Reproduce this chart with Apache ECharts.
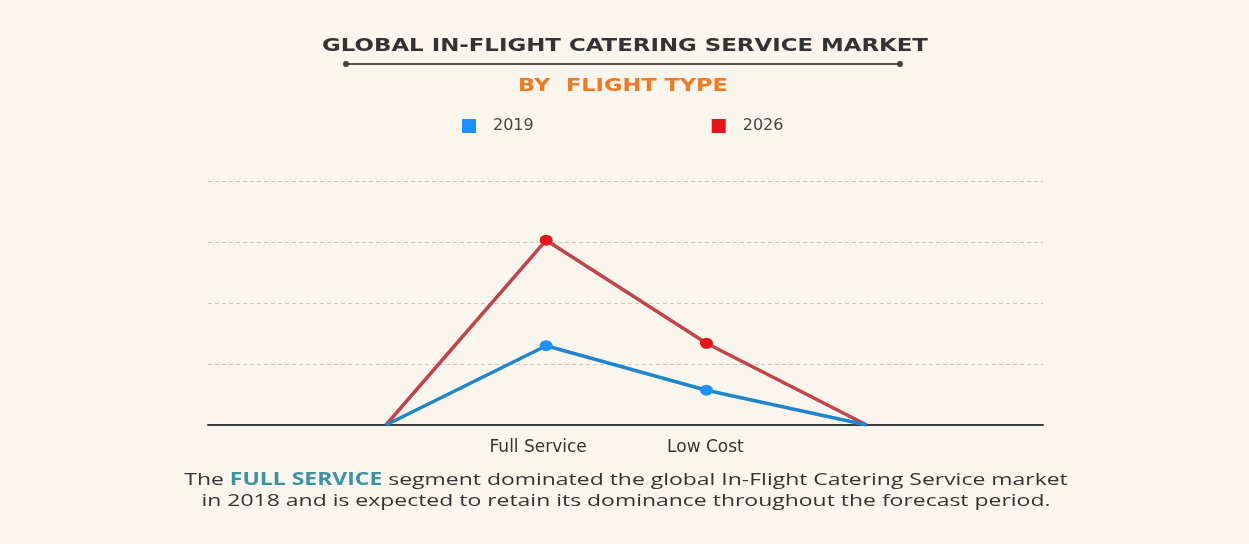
<!DOCTYPE html>
<html><head><meta charset="utf-8">
<script src="https://cdn.jsdelivr.net/npm/echarts@6/dist/echarts.min.js"></script>
<style>html,body{margin:0;padding:0;background:#faf6ee}#c{width:1249px;height:544px}</style>
</head><body><div id="c"></div>
<script>
const categories = ['', 'Full Service', 'Low Cost', ''];
const values2019 = [0, 1.3, 0.57, 0];
const values2026 = [0, 3.03, 1.34, 0];
const legendLabels = ['2019', '2026'];
const titleText = 'GLOBAL IN-FLIGHT CATERING SERVICE MARKET';
const subtitleText = 'BY  FLIGHT TYPE';
const noteText = '{n|The }{b|FULL SERVICE}{n| segment dominated the global In-Flight Catering Service market}\n{n|in 2018 and is expected to retain its dominance throughout the forecast period.}';

const chart = echarts.init(document.getElementById('c'), null, {renderer: 'canvas'});
const toPairs = arr => arr.map((v, i) => [i, v]);
const symSize = v => (v[1] === 0 ? 0 : [13, 11]);
chart.setOption({
  backgroundColor: '#faf6ee',
  animation: false,
  legend: {
    top: 118, left: 462, padding: 0, itemGap: 178, itemWidth: 14, itemHeight: 14, icon: 'rect',
    textStyle: {fontFamily: 'DejaVu Sans', fontSize: 16, color: '#444', padding: [0, 0, 0, 12]},
    data: legendLabels
  },
  grid: {left: 208, right: 206, top: 181, bottom: 119},
  xAxis: {
    type: 'value', min: -1.11, max: 4.1,
    axisLine: {show: true, onZero: false, lineStyle: {color: '#3d3d3d', width: 2}},
    axisTick: {show: false},
    splitLine: {show: false},
    axisLabel: {customValues: [1, 2],
      formatter: v => { const i = Math.round(v); return i === 1 ? '{a|' + categories[i] + '}' : '{c|' + categories[i] + '}'; },
      fontFamily: 'DejaVu Sans', fontSize: 17, color: '#333', margin: 14,
      rich: {
        a: {fontFamily: 'DejaVu Sans', fontSize: 17, color: '#333', padding: [0, 16, 0, 0]},
        c: {fontFamily: 'DejaVu Sans', fontSize: 17, color: '#333', padding: [0, 2, 0, 0]}
      }}
  },
  yAxis: {
    type: 'value', min: 0, max: 4, interval: 1,
    axisLine: {show: false}, axisTick: {show: false}, axisLabel: {show: false},
    splitLine: {lineStyle: {color: '#c9c9c4', type: [4, 3], width: 1}}
  },
  series: [
    {name: legendLabels[0], type: 'line', data: toPairs(values2019),
     color: '#1e90ee', symbol: 'circle', symbolSize: symSize,
     lineStyle: {color: '#1f86cc', width: 3.5},
     itemStyle: {color: '#1e90ff'},
     showAllSymbol: true, z: 3},
    {name: legendLabels[1], type: 'line', data: toPairs(values2026),
     color: '#e8141c', symbol: 'circle', symbolSize: symSize,
     lineStyle: {color: '#c4434b', width: 3.5},
     itemStyle: {color: '#e8141c'}, z: 2}
  ],
  graphic: [
    {type: 'text', x: 625, y: 46, scaleX: 1.27,
     style: {text: titleText, font: 'bold 18px "DejaVu Sans"', fill: '#333',
             textAlign: 'center', textVerticalAlign: 'middle'}},
    {type: 'line', shape: {x1: 346, y1: 64, x2: 900, y2: 64}, style: {stroke: '#555', lineWidth: 2}},
    {type: 'circle', shape: {cx: 346, cy: 64, r: 3}, style: {fill: '#444'}},
    {type: 'circle', shape: {cx: 900, cy: 64, r: 3}, style: {fill: '#444'}},
    {type: 'text', x: 623, y: 86, scaleX: 1.25,
     style: {text: subtitleText, font: 'bold 18px "DejaVu Sans"', fill: '#f07a22',
             textAlign: 'center', textVerticalAlign: 'middle'}},
    {type: 'text', x: 626, y: 491, scaleX: 1.35,
     style: {text: noteText, textAlign: 'center', textVerticalAlign: 'middle', fill: '#333',
       rich: {
         n: {fontFamily: 'Open Sans', fontSize: 17, fill: '#333', lineHeight: 21, align: 'center'},
         b: {fontFamily: 'Open Sans', fontSize: 17, fontWeight: 'bold', fill: '#3a93a3', lineHeight: 21}
       }}}
  ]
});
</script></body></html>
